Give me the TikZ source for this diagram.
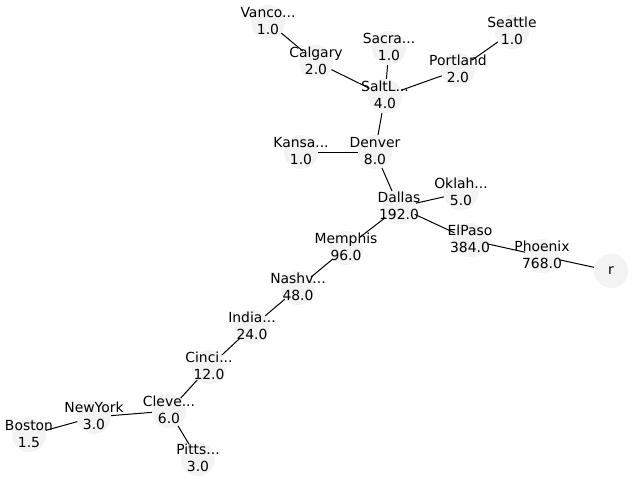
\documentclass[tikz,border=0pt]{standalone}
\usepackage{fontspec}
\setmainfont{DejaVu Sans}
\usetikzlibrary{backgrounds}
\definecolor{nodefill}{RGB}{243,243,243}

\begin{document}
\begin{tikzpicture}[x=1pt,y=-1pt,
    city/.style={circle,fill=nodefill,minimum size=34pt,inner sep=0pt},
    every label/.style={align=center,yshift=1pt,inner sep=0pt,
      font=\fontsize{13.9}{16.6}\selectfont}]
        \useasboundingbox (0,0) rectangle (640,480);
        \node[city,label=center:{Vanco...\\1.0}] (vanc) at (268,22) {};
        \node[city,label=center:{Calgary\\2.0}] (calg) at (316,62) {};
        \node[city,label=center:{Sacra...\\1.0}] (sacr) at (389,48) {};
        \node[city,label=center:{Seattle\\1.0}] (seat) at (512,32) {};
        \node[city,label=center:{Portland\\2.0}] (port) at (458,70) {};
        \node[city,label=center:{SaltL...\\4.0}] (salt) at (385,96) {};
        \node[city,label=center:{Kansa...\\1.0}] (kans) at (301,152) {};
        \node[city,label=center:{Denver\\8.0}] (denv) at (375,152) {};
        \node[city,label=center:{Oklah...\\5.0}] (okla) at (461,193) {};
        \node[city,label=center:{Dallas\\192.0}] (dall) at (399,207) {};
        \node[city,label=center:{ElPaso\\384.0}] (elpa) at (470,240) {};
        \node[city,label=center:{Memphis\\96.0}] (memp) at (346,248) {};
        \node[city,label=center:{Phoenix\\768.0}] (phoe) at (542,256) {};
        \node[city,label={[yshift=-1pt]center:r}] (r) at (611,271) {};
        \node[city,label=center:{Nashv...\\48.0}] (nash) at (298,288) {};
        \node[city,label=center:{India...\\24.0}] (indi) at (252,327) {};
        \node[city,label=center:{Cinci...\\12.0}] (cinc) at (209,367) {};
        \node[city,label=center:{Cleve...\\6.0}] (clev) at (169,411) {};
        \node[city,label=center:{NewYork\\3.0}] (newy) at (94,417) {};
        \node[city,label=center:{Boston\\1.5}] (bost) at (29,435) {};
        \node[city,label=center:{Pitts...\\3.0}] (pitt) at (198,459) {};
        \begin{scope}[on background layer]
        \path[draw,line width=1pt]
        (vanc) edge (calg)
        (calg) edge (salt)
        (sacr) edge (salt)
        (seat) edge (port)
        (port) edge (salt)
        (salt) edge (denv)
        (kans) edge (denv)
        (denv) edge (dall)
        (okla) edge (dall)
        (dall) edge (elpa)
        (dall) edge (memp)
        (elpa) edge (phoe)
        (phoe) edge (r)
        (memp) edge (nash)
        (nash) edge (indi)
        (indi) edge (cinc)
        (cinc) edge (clev)
        (clev) edge (newy)
        (newy) edge (bost)
        (clev) edge (pitt);
        \end{scope}
      \end{tikzpicture}
\end{document}
